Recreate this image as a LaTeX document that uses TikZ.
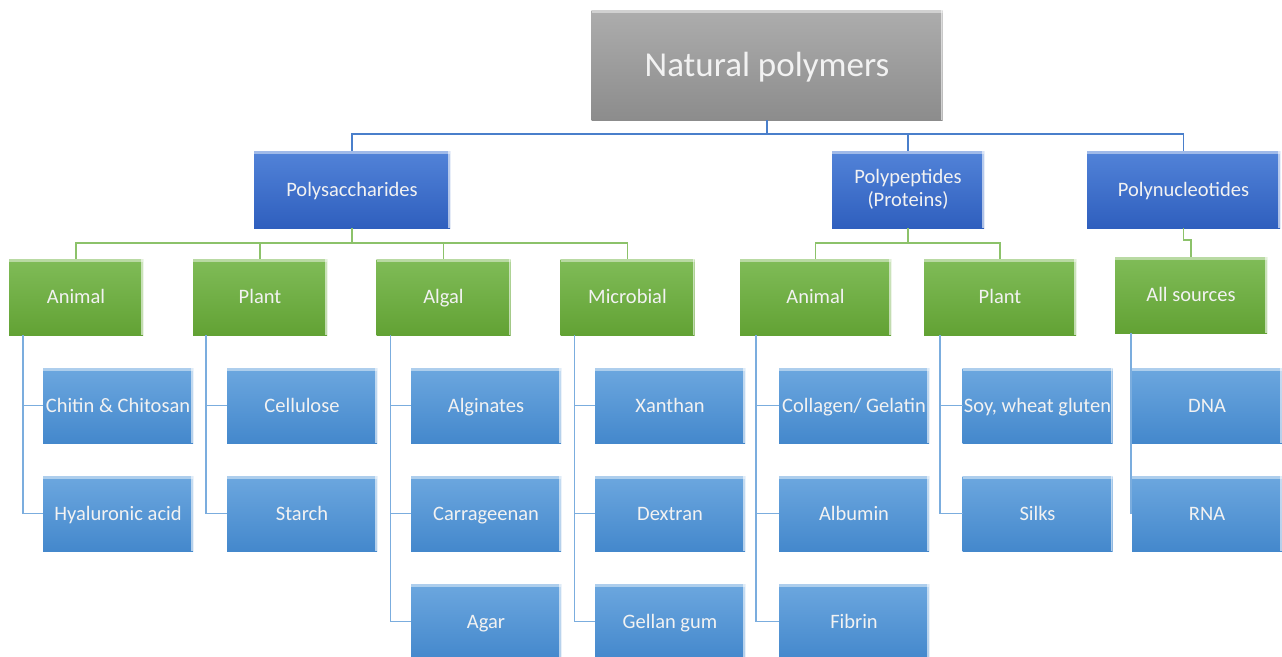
\documentclass[tikz,border=0pt]{standalone}
\usepackage{fontspec}
\setmainfont{Carlito}
\usepackage{tikz}
\usetikzlibrary{positioning}
\usepackage{xcolor}
\definecolor{RootTop}{HTML}{ADADAD}
\definecolor{RootBot}{HTML}{8C8C8C}
\definecolor{ClassTop}{HTML}{5283D8}
\definecolor{ClassBot}{HTML}{2F5FBE}
\definecolor{SourceTop}{HTML}{80BC58}
\definecolor{SourceBot}{HTML}{62A234}
\definecolor{ItemTop}{HTML}{6CA7DF}
\definecolor{ItemBot}{HTML}{4488CC}
\definecolor{BoxText}{HTML}{F2F2F2}
\definecolor{TrunkLine}{HTML}{4A7FCB}
\definecolor{BranchLine}{HTML}{8CC26A}
\definecolor{LeafLine}{HTML}{7BADDE}
\tikzset{%
  bevel/.style={%
    path picture={%
      \draw[white, opacity=0.45, line width=3pt]
        ([yshift=-1.5pt]path picture bounding box.north west)
        --
        ([yshift=-1.5pt]path picture bounding box.north east);
      \draw[white, opacity=0.6, line width=2pt]
        ([xshift=-1pt]path picture bounding box.north east)
        --
        ([xshift=-1pt]path picture bounding box.south east);
    }%
  },
  fixbase/.style={%
    text height=16pt,%
    text depth=3pt,%
  },
  box/.style={%
    rectangle,%
    inner sep=0pt,%
    outer sep=0pt,%
    align=center,%
    text=BoxText,%
    font={\fontsize{20.5}{23}\selectfont},%
    bevel,%
  },
  rootbox/.style={%
    box,%
    text height=28pt,%
    text depth=6pt,%
    top color=RootTop,%
    bottom color=RootBot,%
    font={\fontsize{35}{40}\selectfont},%
  },
  classbox/.style={%
    box,%
    top color=ClassTop,%
    bottom color=ClassBot,%
    minimum height=77,%
  },
  sourcebox/.style={%
    box,%
    fixbase,%
    top color=SourceTop,%
    bottom color=SourceBot,%
    minimum height=76,%
  },
  itembox/.style={%
    box,%
    fixbase,%
    top color=ItemTop,%
    bottom color=ItemBot,%
    minimum width=150,%
    minimum height=75,%
  },
  trunk/.style={%
    color=TrunkLine,%
    line width=1.4pt,%
  },
  branch/.style={%
    color=BranchLine,%
    line width=1.4pt,%
  },
  leaf/.style={%
    color=LeafLine,%
    line width=1.4pt,%
  },
}
\begin{document}
\begin{tikzpicture}[x=1pt, y=-1pt]
    \useasboundingbox[fill=white] (0,0) rectangle (1282,656);

    \coordinate (rootC) at (767,65);
    \coordinate (psacC) at (352,189.5);
    \coordinate (ppepC) at (908,189.5);
    \coordinate (pnucC) at (1183.5,189.5);

    \node[rootbox, minimum width=351, minimum height=110] (root) at (rootC) {Natural polymers};

    \node[classbox, fixbase, minimum width=196] (psac) at (psacC) {Polysaccharides};
    \node[classbox, minimum width=152] (ppep) at (ppepC) {Polypeptides\\(Proteins)};
    \node[classbox, fixbase, minimum width=193] (pnuc) at (pnucC) {Polynucleotides};

    \node[sourcebox, minimum width=134] (sacAnimal) at (76,297) {Animal};
    \node[sourcebox, minimum width=134] (sacPlant) at (260,297) {Plant};
    \node[sourcebox, minimum width=134] (sacAlgal) at (443.5,297) {Algal};
    \node[sourcebox, minimum width=134] (sacMicro) at (627.5,297) {Microbial};
    \node[sourcebox, minimum width=151] (pepAnimal) at (815.5,297) {Animal};
    \node[sourcebox, minimum width=152] (pepPlant) at (1000,297) {Plant};
    \node[sourcebox, minimum width=152] (nucAll) at (1191,295) {All sources};

    \node[itembox] (chitin) at (118,405.5) {Chitin \& Chitosan};
    \node[itembox] (hyaluronic) at (118,513.5) {Hyaluronic acid};
    \node[itembox] (cellulose) at (302,405.5) {Cellulose};
    \node[itembox] (starch) at (302,513.5) {Starch};
    \node[itembox] (alginates) at (486,405.5) {Alginates};
    \node[itembox] (carrageenan) at (486,513.5) {Carrageenan};
    \node[itembox] (agar) at (486,621.5) {Agar};
    \node[itembox] (xanthan) at (670,405.5) {Xanthan};
    \node[itembox] (dextran) at (670,513.5) {Dextran};
    \node[itembox] (gellan) at (670,621.5) {Gellan gum};
    \node[itembox] (collagen) at (854,405.5) {Collagen/ Gelatin};
    \node[itembox] (albumin) at (854,513.5) {Albumin};
    \node[itembox] (fibrin) at (854,621.5) {Fibrin};
    \node[itembox] (soy) at (1037.5,405.5) {Soy, wheat gluten};
    \node[itembox] (silks) at (1037.5,513.5) {Silks};
    \node[itembox] (dna) at (1207,405.5) {DNA};
    \node[itembox] (rna) at (1207,513.5) {RNA};

    % root to classes
    \draw[trunk]
      (root.south)
      --
      ++(0,14)
      -|
      (psac.north);
    \draw[trunk]
      (root.south)
      --
      ++(0,14)
      -|
      (ppep.north);
    \draw[trunk]
      (root.south)
      --
      ++(0,14)
      -|
      (pnuc.north);

    % classes to sources
    \draw[branch] (psac.south) -- ++(0,15) -| (sacAnimal.north);
    \draw[branch] (psac.south) -- ++(0,15) -| (sacPlant.north);
    \draw[branch] (psac.south) -- ++(0,15) -| (sacAlgal.north);
    \draw[branch] (psac.south) -- ++(0,15) -| (sacMicro.north);
    \draw[branch] (ppep.south) -- ++(0,15) -| (pepAnimal.north);
    \draw[branch] (ppep.south) -- ++(0,15) -| (pepPlant.north);
    \draw[branch] (pnuc.south) -- ++(0,12) -| (nucAll.north);

    % sources to items
    \draw[leaf] ([xshift=14pt]sacAnimal.south west) |- (chitin.west);
    \draw[leaf] ([xshift=14pt]sacAnimal.south west) |- (hyaluronic.west);
    \draw[leaf] ([xshift=13pt]sacPlant.south west) |- (cellulose.west);
    \draw[leaf] ([xshift=13pt]sacPlant.south west) |- (starch.west);
    \draw[leaf] ([xshift=14pt]sacAlgal.south west) |- (alginates.west);
    \draw[leaf] ([xshift=14pt]sacAlgal.south west) |- (carrageenan.west);
    \draw[leaf] ([xshift=14pt]sacAlgal.south west) |- (agar.west);
    \draw[leaf] ([xshift=14pt]sacMicro.south west) |- (xanthan.west);
    \draw[leaf] ([xshift=14pt]sacMicro.south west) |- (dextran.west);
    \draw[leaf] ([xshift=14pt]sacMicro.south west) |- (gellan.west);
    \draw[leaf] ([xshift=16pt]pepAnimal.south west) |- (collagen.west);
    \draw[leaf] ([xshift=16pt]pepAnimal.south west) |- (albumin.west);
    \draw[leaf] ([xshift=16pt]pepAnimal.south west) |- (fibrin.west);
    \draw[leaf] ([xshift=16pt]pepPlant.south west) |- (soy.west);
    \draw[leaf] ([xshift=16pt]pepPlant.south west) |- (silks.west);
    \draw[leaf] ([xshift=16pt]nucAll.south west) |- (dna.west);
    \draw[leaf] ([xshift=16pt]nucAll.south west) |- (rna.west);

  \end{tikzpicture}
\end{document}
